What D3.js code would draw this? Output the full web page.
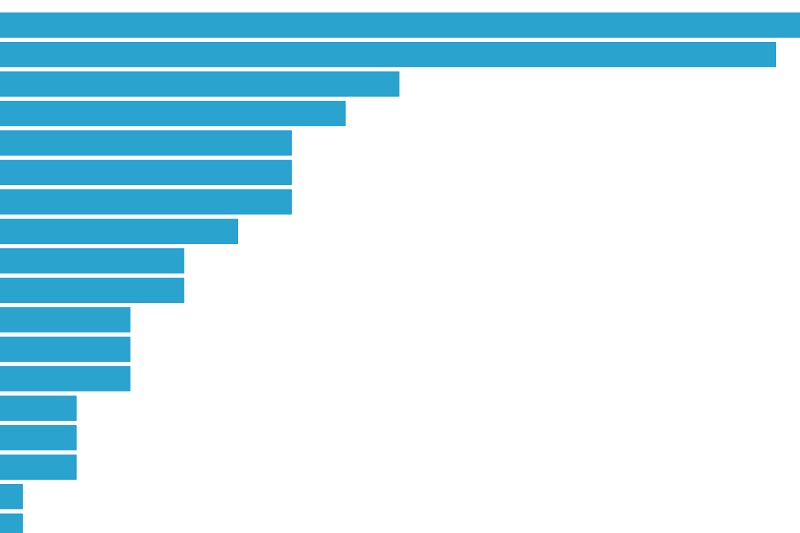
<!DOCTYPE html>
<html>
<head>
<meta charset="utf-8">
<script src="https://cdn.jsdelivr.net/npm/d3@7"></script>
<style>
  html, body { margin: 0; padding: 0; background: #ffffff; overflow: hidden; }
  svg { display: block; }
</style>
</head>
<body>
<svg id="chart" width="800" height="533"></svg>
<script>
const categories = ["c1","c2","c3","c4","c5","c6","c7","c8","c9","c10","c11","c12","c13","c14","c15","c16","c17","c18"];
const values = [16, 15, 8, 7, 6, 6, 6, 5, 4, 4, 3, 3, 3, 2, 2, 2, 1, 1];

const svg = d3.select("#chart");

const x = d3.scaleLinear().domain([0, 16]).range([-31.5, -31.5 + 16 * 53.8]);
const y = d3.scaleBand()
  .domain(categories)
  .range([13, 538.2])
  .paddingInner(0.18)
  .paddingOuter(0)
  .align(0);

svg.append("g")
  .selectAll("rect")
  .data(values)
  .join("rect")
  .attr("x", x(0))
  .attr("y", (d, i) => y(categories[i]))
  .attr("width", d => x(d) - x(0))
  .attr("height", y.bandwidth())
  .attr("fill", "#2ba3cf")
  .attr("stroke", "#169ad2")
  .attr("stroke-width", 1);
</script>
</body>
</html>
